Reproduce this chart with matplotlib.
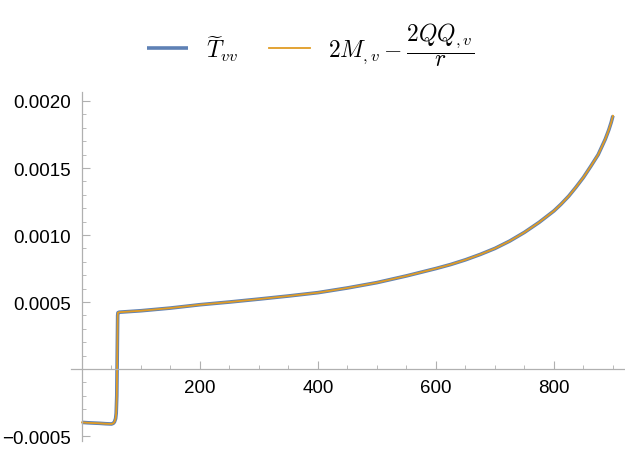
import matplotlib
matplotlib.use("Agg")
import matplotlib.pyplot as plt
from matplotlib.ticker import MultipleLocator, FixedLocator, FuncFormatter

plt.rcParams['font.family'] = ['Liberation Sans', 'DejaVu Sans']
plt.rcParams['mathtext.fontset'] = 'cm'

# data
x_vals = [0, 10, 20, 30, 40, 50, 53, 55, 57, 58, 59, 59.5, 60, 60.5, 61, 63,
          100, 150, 200, 250, 300, 350, 400, 450, 500, 550, 600, 625, 650,
          675, 700, 725, 750, 775, 800, 812, 825, 837, 850, 862, 875, 887,
          893, 897, 900]
t_vv = [-0.000398, -0.000401, -0.000403, -0.000405, -0.000408, -0.000410,
        -0.000405, -0.000395, -0.000370, -0.000330, -0.000200, 0.0, 0.000200,
        0.000400, 0.000420, 0.000424,
        0.000435, 0.000455, 0.000480, 0.000500, 0.000522, 0.000545, 0.000570,
        0.000605, 0.000645, 0.000695, 0.000750, 0.000780, 0.000815,
        0.000855, 0.000900, 0.000955, 0.001020, 0.001095, 0.001180, 0.001230,
        0.001290, 0.001355, 0.001430, 0.001510, 0.001600, 0.001715,
        0.001785, 0.001840, 0.001890]
rhs = list(t_vv)

label_t = r'$\widetilde{T}_{vv}$'
label_r = r'$2M_{,v}-\dfrac{2QQ_{,v}}{r}$'
y_major = [-0.0005, 0.0005, 0.0010, 0.0015, 0.0020]
x_major = [200, 400, 600, 800]

blue = '#5E81B5'
orange = '#E19C24'

fig = plt.figure(figsize=(6.25, 4.52), dpi=100)
ax = fig.add_axes([0.1136, 0.0221, 0.886, 0.773])

ax.plot(x_vals, t_vv, color=blue, lw=2.6, label=label_t, solid_capstyle='butt')
ax.plot(x_vals, rhs, color=orange, lw=1.3, label=label_r)

ax.set_xlim(-18.6, 920)
ax.set_ylim(-0.000537, 0.00207)

for s in ['top', 'right']:
    ax.spines[s].set_visible(False)
ax.spines['left'].set_position(('data', 0))
ax.spines['bottom'].set_position(('data', 0))
for s in ['left', 'bottom']:
    ax.spines[s].set_color('#b0b0b0')
    ax.spines[s].set_linewidth(0.9)

ax.xaxis.set_major_locator(FixedLocator(x_major))
ax.xaxis.set_minor_locator(MultipleLocator(50))
ax.yaxis.set_major_locator(FixedLocator(y_major))
ax.yaxis.set_minor_locator(MultipleLocator(0.0001))

ax.xaxis.set_major_formatter(FuncFormatter(lambda v, p: f'{v:.0f}'))
ax.yaxis.set_major_formatter(FuncFormatter(lambda v, p: f'{v:.4f}'.replace('-', '\u2212')))

ax.tick_params(axis='both', which='major', direction='in', length=5.5,
               width=0.8, color='#b0b0b0', labelsize=13.5, labelcolor='black')
ax.tick_params(axis='both', which='minor', direction='in', length=3,
               width=0.6, color='#b0b0b0')
ax.tick_params(axis='x', pad=7)
ax.tick_params(axis='y', pad=8)

leg = fig.legend(loc='center', bbox_to_anchor=(0.497, 0.9), ncol=2,
                 frameon=False, fontsize=17, handlelength=1.75,
                 columnspacing=1.3, handletextpad=0.75)

fig.savefig('out.png', dpi=100)
